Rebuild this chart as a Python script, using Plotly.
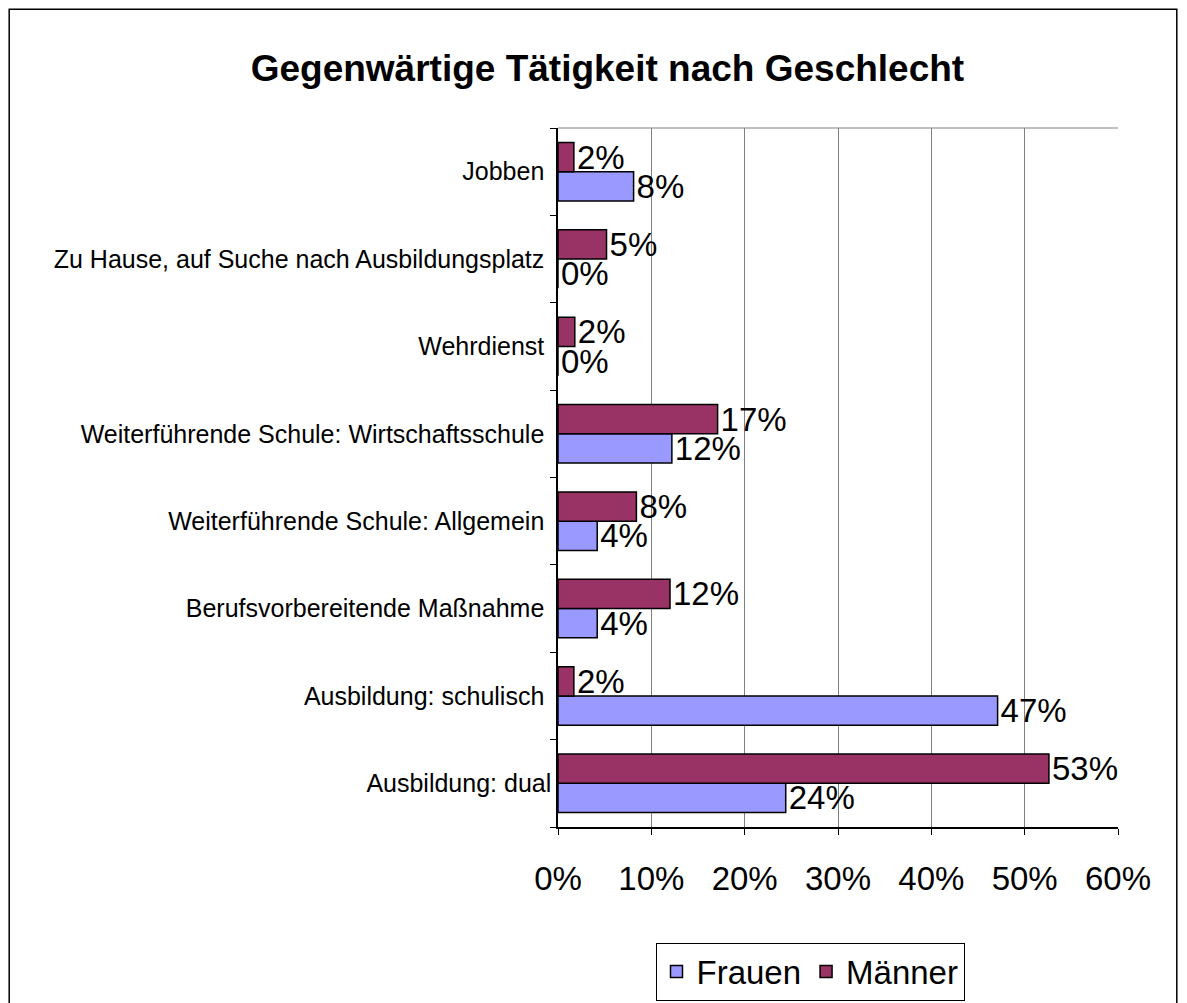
import plotly.graph_objects as go

# categories listed bottom to top
categories = [
    "Ausbildung: dual",
    "Ausbildung: schulisch ",
    "Berufsvorbereitende Maßnahme ",
    "Weiterführende Schule: Allgemein ",
    "Weiterführende Schule: Wirtschaftsschule ",
    "Wehrdienst ",
    "Zu Hause, auf Suche nach Ausbildungsplatz ",
    "Jobben ",
]
frauen = [24.4, 47.1, 4.2, 4.2, 12.2, 0.0, 0.0, 8.1]
maenner = [52.6, 1.7, 12.0, 8.4, 17.1, 1.8, 5.2, 1.7]
x_ticks = [0, 10, 20, 30, 40, 50, 60]
x_ticklabels = ["0%", "10%", "20%", "30%", "40%", "50%", "60%"]

FONT = "Liberation Sans, Arial, sans-serif"

fig = go.Figure()
fig.add_bar(
    name="Frauen", y=categories, x=frauen, orientation="h",
    marker=dict(color="#9999FF", line=dict(color="black", width=1.5)),
    text=[f"{round(v)}%" for v in frauen], textposition="outside",
    textfont=dict(size=33, color="black"), constraintext="none", cliponaxis=False,
)
fig.add_bar(
    name="Männer", y=categories, x=maenner, orientation="h",
    marker=dict(color="#993366", line=dict(color="black", width=1.5)),
    text=[f"{round(v)}%" for v in maenner], textposition="outside",
    textfont=dict(size=33, color="black"), constraintext="none", cliponaxis=False,
)

fig.update_layout(
    width=1187, height=1003,
    margin=dict(l=550, r=77, t=120, b=183),
    paper_bgcolor="white", plot_bgcolor="white",
    font=dict(family=FONT, color="black"),
    barmode="group", bargap=0.33, bargroupgap=0,
    title=dict(text="<b>Gegenwärtige Tätigkeit nach Geschlecht</b>",
               x=0.505, xanchor="center", y=0.94, yanchor="middle",
               font=dict(size=37, family=FONT, color="black")),
    legend=dict(orientation="h", x=0.45, xanchor="center", y=-0.205, yanchor="middle",
                bordercolor="black", borderwidth=1, font=dict(size=33),
                traceorder="normal"),
    showlegend=True,
)
fig.update_xaxes(
    range=[0, 60], tickvals=x_ticks, ticktext=x_ticklabels,
    showgrid=True, gridcolor="#808080", gridwidth=1,
    showline=True, linecolor="black", linewidth=1.5,
    ticks="outside", ticklen=6, tickcolor="black",
    tickfont=dict(size=33), ticklabelstandoff=16, zeroline=False,
)
fig.update_yaxes(
    showline=True, linecolor="black", linewidth=1.5,
    ticks="outside", ticklen=6, tickcolor="black", tickson="boundaries",
    tickfont=dict(size=25), showgrid=False,
)
# plot area top edge
fig.add_shape(type="line", xref="paper", yref="paper", x0=0, x1=1, y0=1, y1=1,
              line=dict(color="#808080", width=1))
# outer chart frame
fig.add_shape(type="rect", xref="paper", yref="paper",
              x0=-0.980, x1=1.105, y0=-0.28, y1=1.170,
              line=dict(color="black", width=1.5))

fig.write_html("out.html")
